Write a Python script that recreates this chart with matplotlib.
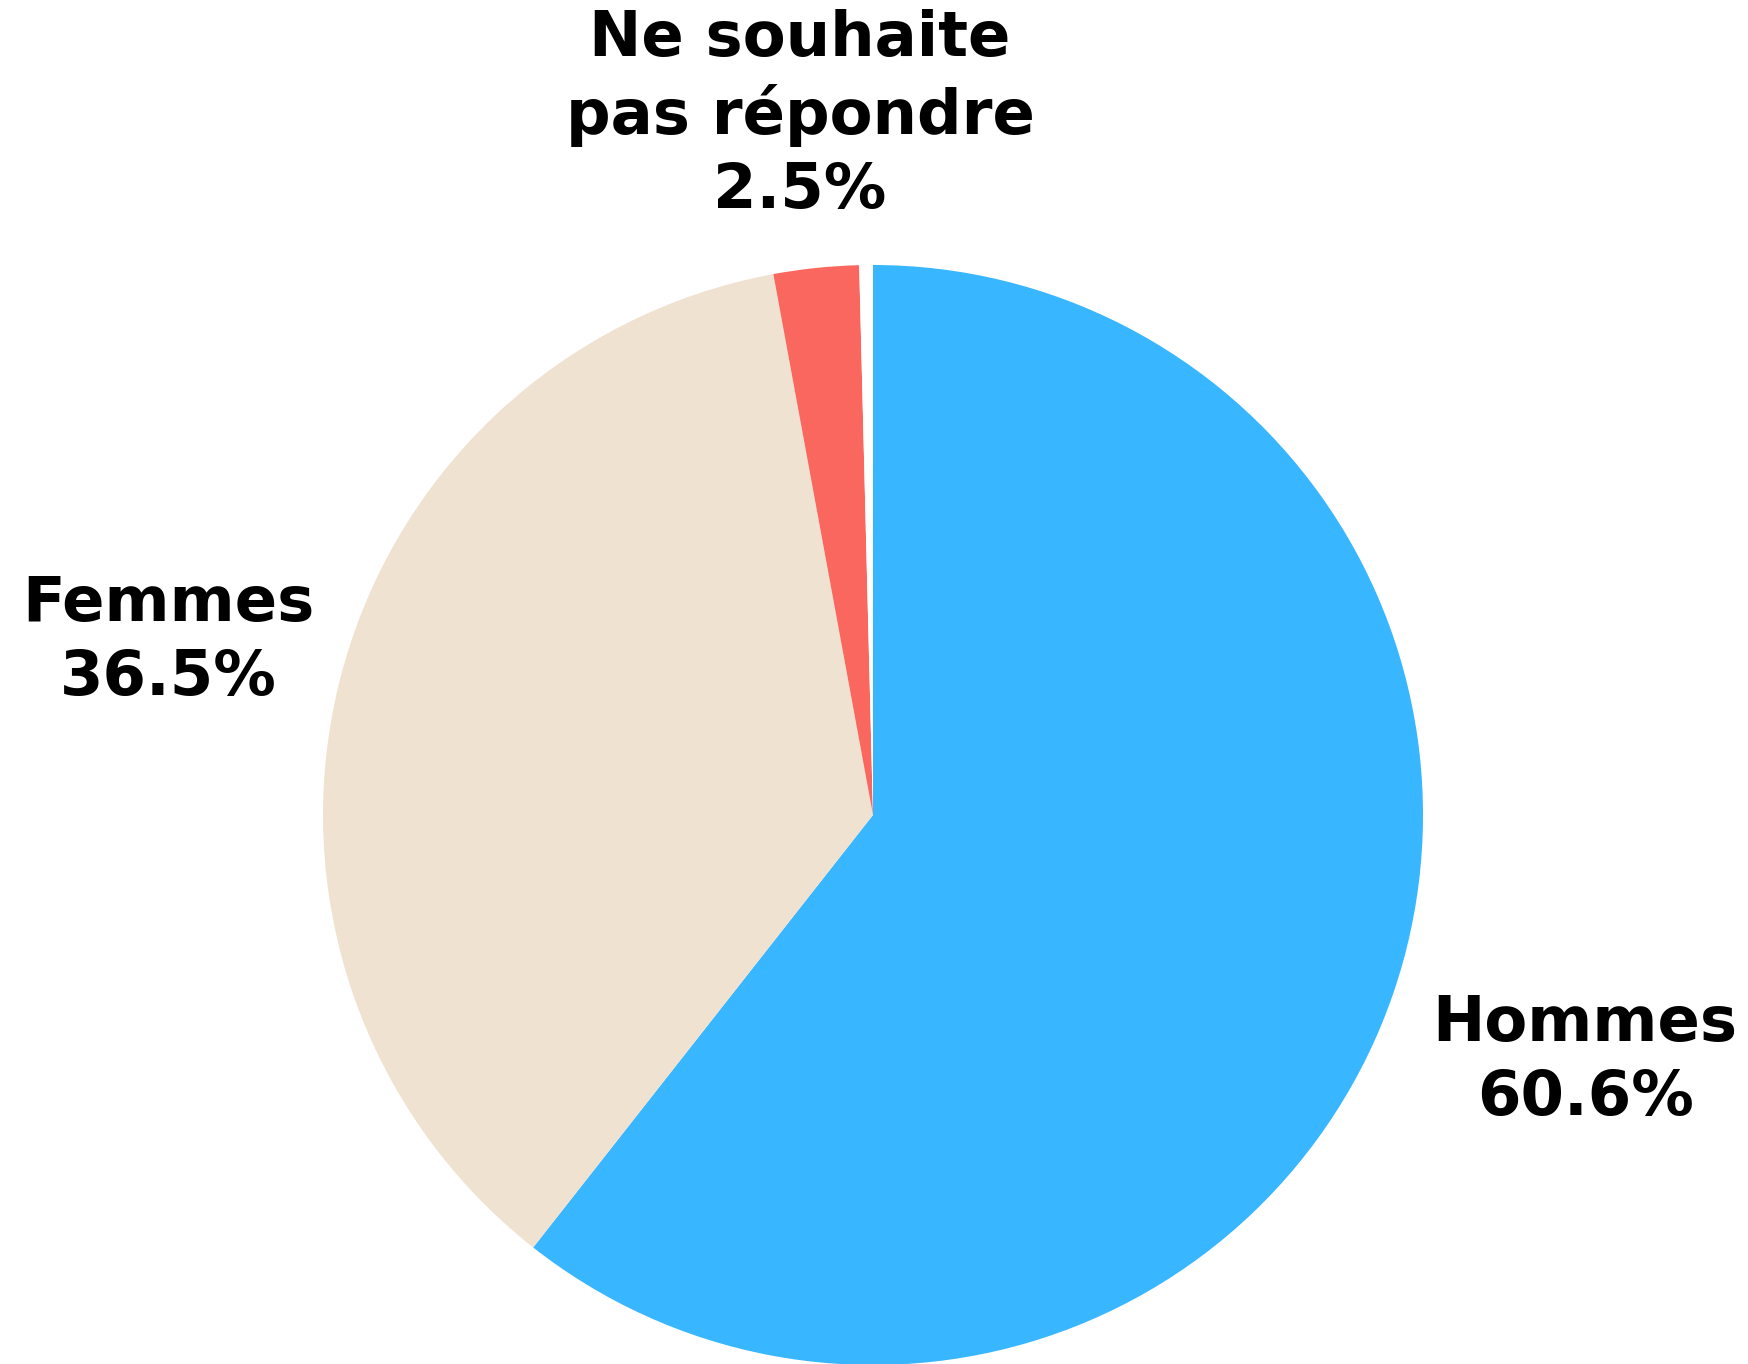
"""Pie chart: répartition par genre."""

import numpy as np
from matplotlib import pyplot as plt

labels = ["Hommes", "Femmes", "Ne souhaite\npas répondre", ""]
values = [60.6, 36.5, 2.5, 0.4]
colors = ["#38B6FF", "#F0E2D0", "#F9675E", "#FFFFFF"]
label_dist = [1.37, 1.32, 1.28, 0]

fig = plt.figure(figsize=(17.49, 13.64), dpi=100)
ax = fig.add_axes([0, 0, 1, 1])

wedges, _ = ax.pie(values, colors=colors, startangle=90, counterclock=False)

for w, l, v, d in zip(wedges, labels, values, label_dist):
    if not l:
        continue
    ang = np.deg2rad((w.theta1 + w.theta2) / 2)
    ax.text(d * np.cos(ang), d * np.sin(ang), f"{l}\n{v:.1f}%",
            ha='center', va='center', multialignment='center',
            fontsize=45, fontweight='bold', linespacing=1.3)

ax.set_xlim(-873 / 550, (1749 - 873) / 550)
ax.set_ylim(-549 / 550, 815 / 550)
ax.set_aspect('auto')
ax.axis('off')

fig.savefig("out.png", dpi=100)
